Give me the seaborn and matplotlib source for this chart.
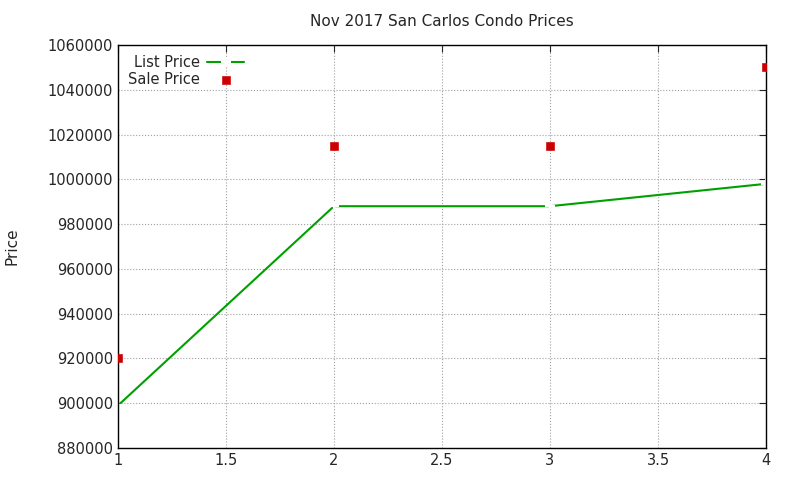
import pandas as pd
import matplotlib
matplotlib.use("Agg")
import matplotlib.pyplot as plt
import seaborn as sns

# values
listings = [1, 2, 3, 4]
list_price = [899000, 988000, 988000, 998000]
sale_price = [920000, 1015000, 1015000, 1050000]
y_ticks = list(range(880000, 1060001, 20000))
x_ticks = [1, 1.5, 2, 2.5, 3, 3.5, 4]

sns.set_style("white")
plt.rcParams["font.family"] = ["DejaVu Sans"]

df = pd.DataFrame({"n": listings, "list": list_price, "sale": sale_price})

fig = plt.figure(figsize=(8, 4.8), dpi=100)
ax = fig.add_axes([118/800, 1-448/480, (766-118)/800, (448-45)/480])

sns.lineplot(data=df, x="n", y="list", ax=ax, color="#00a000", marker="+",
             markersize=7, markeredgewidth=1.5, linewidth=1.5, label="List Price")
sns.scatterplot(data=df, x="n", y="sale", ax=ax, color="#cc0000", marker="s",
                s=30, edgecolor="#cc0000", label="Sale Price", zorder=3)

ax.set_xlim(1, 4)
ax.set_ylim(880000, 1060000)
ax.set_xticks(x_ticks)
ax.set_xticklabels([f"{t:g}" for t in x_ticks])
ax.set_yticks(y_ticks)
ax.set_yticklabels([str(t) for t in y_ticks])
ax.grid(True, color="#a0a0a0", linestyle=":", linewidth=0.8)
ax.tick_params(direction="in", top=True, right=True, labelsize=10.5, length=5)
for s in ax.spines.values():
    s.set_color("black")
    s.set_linewidth(1)
ax.set_xlabel("")
ax.set_ylabel("Price", fontsize=11, labelpad=20)
ax.set_title("Nov 2017 San Carlos Condo Prices", fontsize=11, pad=14)

ax.legend(loc="upper left", bbox_to_anchor=(0.0, 1.0), frameon=False,
          markerfirst=False, fontsize=10.5, handlelength=2.5,
          labelspacing=0.1, borderaxespad=0.3, handletextpad=0.5)

fig.savefig("out.png", dpi=100)
